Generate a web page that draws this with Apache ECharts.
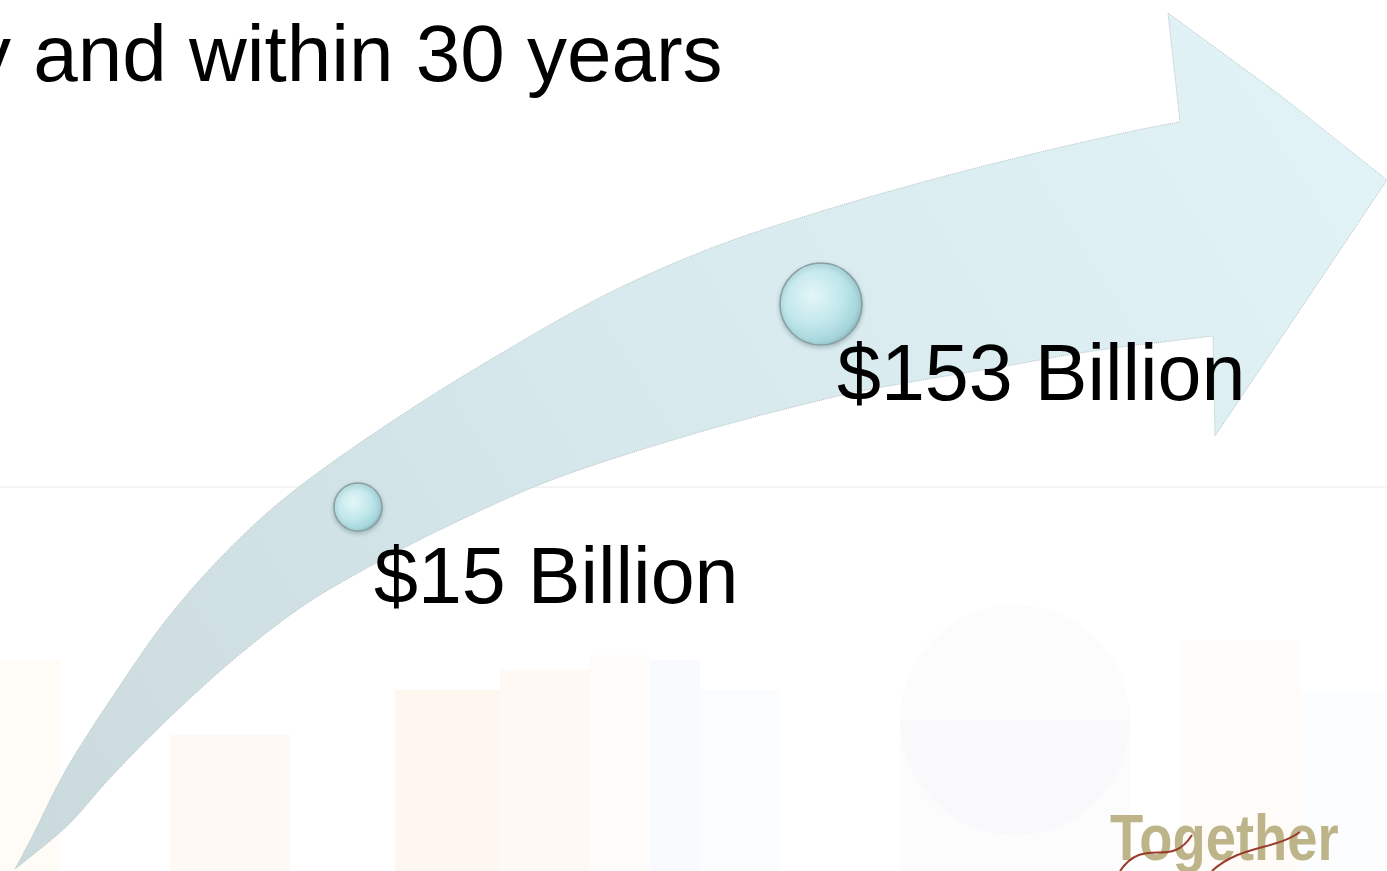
<!DOCTYPE html>
<html>
<head>
<meta charset="utf-8">
<script src="https://cdn.jsdelivr.net/npm/echarts@6/dist/echarts.min.js"></script>
<style>
html,body{margin:0;padding:0;background:#ffffff;}
#chart{width:1387px;height:871px;}
</style>
</head>
<body>
<div id="chart"></div>
<script>
// ---- data ----
var stages = ['Today', 'Within 30 years'];
var valuesBillion = [15, 153];
var headline = 'y and within 30 years';
var logoText = 'Together';

// ---- helpers (decorative arrow outline) ----
function catmullPoints(pts) {
  var out = [pts[0]];
  for (var i = 0; i < pts.length - 1; i++) {
    var p0 = pts[i - 1] || pts[i], p1 = pts[i], p2 = pts[i + 1], p3 = pts[i + 2] || p2;
    for (var k = 1; k <= 12; k++) {
      var t = k / 12, t2 = t * t, t3 = t2 * t;
      var x = 0.5 * ((2 * p1[0]) + (-p0[0] + p2[0]) * t + (2 * p0[0] - 5 * p1[0] + 4 * p2[0] - p3[0]) * t2 + (-p0[0] + 3 * p1[0] - 3 * p2[0] + p3[0]) * t3);
      var y = 0.5 * ((2 * p1[1]) + (-p0[1] + p2[1]) * t + (2 * p0[1] - 5 * p1[1] + 4 * p2[1] - p3[1]) * t2 + (-p0[1] + 3 * p1[1] - 3 * p2[1] + p3[1]) * t3);
      out.push([x, y]);
    }
  }
  return out;
}
var upperEdge = [[15,869],[33,835],[67,768],[117,690],[170,615],[233,545],[300,486],[400,416],[505,351],[609,293],[714,247],[819,212],[923,182],[1028,155],[1133,131],[1180,122]];
var lowerEdge = [[1213,336],[1100,350],[1000,367],[900,384],[834,397],[700,432],[557,478],[450,525],[367,568],[300,608],[233,660],[167,720],[110,778],[67,826],[15,869]];
var arrowPoints = catmullPoints(upperEdge)
  .concat([[1168, 13], [1280, 95], [1387, 180], [1300, 310], [1215, 436]])
  .concat(catmullPoints(lowerEdge));

var chart = echarts.init(document.getElementById('chart'), null, {renderer: 'canvas'});

var bgRects = [
  [0, 660, 60, 211, 'rgba(253,236,218,0.22)'],
  [170, 735, 120, 136, 'rgba(253,232,212,0.25)'],
  [395, 690, 105, 181, 'rgba(253,230,206,0.3)'],
  [500, 670, 90, 201, 'rgba(253,232,212,0.25)'],
  [590, 655, 60, 216, 'rgba(250,238,228,0.2)'],
  [650, 660, 50, 211, 'rgba(232,240,250,0.3)'],
  [700, 690, 80, 181, 'rgba(236,242,250,0.25)'],
  [1180, 640, 120, 231, 'rgba(253,236,225,0.2)'],
  [1300, 690, 87, 181, 'rgba(240,244,250,0.2)']
];
var graphics = [];
bgRects.forEach(function (r) {
  graphics.push({type: 'rect', z: -10, shape: {x: r[0], y: r[1], width: r[2], height: r[3]}, style: {fill: r[4]}, silent: true});
});
graphics.push({type: 'circle', z: -9, shape: {cx: 1015, cy: 720, r: 115}, style: {fill: 'rgba(238,240,244,0.18)'}, silent: true});
graphics.push({type: 'rect', z: -9, shape: {x: 900, y: 720, width: 230, height: 151}, style: {fill: 'rgba(238,240,244,0.18)'}, silent: true});
graphics.push({type: 'line', z: -8, shape: {x1: 0, y1: 487, x2: 1387, y2: 487}, style: {stroke: '#f4f4f4', lineWidth: 2}, silent: true});
graphics.push({
  type: 'polygon', z: -5, silent: true,
  shape: {points: arrowPoints},
  style: {
    fill: new echarts.graphic.LinearGradient(0, 1, 1, 0, [
      {offset: 0, color: '#cad9dc'},
      {offset: 0.45, color: '#d6e8ec'},
      {offset: 1, color: '#e2f4f7'}
    ]),
    stroke: '#b6c3c6', lineWidth: 1, lineDash: [1, 1]
  }
});
graphics.push({
  type: 'text', z: 10, x: -29, y: 19, silent: true,
  style: {text: headline, fill: '#000000', font: '80px "Liberation Sans", Arial, sans-serif'}
});
graphics.push({
  type: 'text', z: 10, x: 1110, y: 810, scaleX: 0.85, silent: true,
  style: {text: logoText, fill: '#bdb48a', font: 'bold 64px "Liberation Sans", Arial, sans-serif'}
});
graphics.push({
  type: 'bezierCurve', z: 11, silent: true,
  shape: {x1: 1120, y1: 871, cpx1: 1145, cpy1: 835, cpx2: 1170, cpy2: 870, x2: 1192, y2: 835},
  style: {fill: null, stroke: '#9a3b2b', lineWidth: 2}
});
graphics.push({
  type: 'bezierCurve', z: 11, silent: true,
  shape: {x1: 1212, y1: 871, cpx1: 1240, cpy1: 845, cpx2: 1275, cpy2: 850, x2: 1300, y2: 832},
  style: {fill: null, stroke: '#9a3b2b', lineWidth: 2}
});

var option = {
  backgroundColor: '#ffffff',
  animation: false,
  grid: {left: 358, width: 463, top: 235, height: 294, containLabel: false},
  xAxis: {type: 'category', data: stages, boundaryGap: false, show: false},
  yAxis: {type: 'value', min: 0, max: 200, show: false},
  graphic: graphics,
  series: [{
    type: 'scatter',
    z: 5,
    data: valuesBillion,
    symbol: 'circle',
    symbolSize: function (v, p) { return p.dataIndex === 0 ? 48 : 82; },
    itemStyle: {
      opacity: 1,
      color: new echarts.graphic.RadialGradient(0.4, 0.4, 0.65, [
        {offset: 0, color: '#e4f6f8'},
        {offset: 0.55, color: '#c0e7eb'},
        {offset: 0.85, color: '#a6d6dc'},
        {offset: 1, color: '#92bcc1'}
      ]),
      borderColor: '#8a9fa2', borderWidth: 1.5,
      shadowColor: 'rgba(60,90,95,0.3)', shadowBlur: 4, shadowOffsetY: 2
    },
    label: {
      show: true,
      opacity: 1,
      position: ['50%', '50%'],
      align: 'left',
      verticalAlign: 'middle',
      offset: [16, 74],
      formatter: function (p) { return '$' + p.value + ' Billion'; },
      color: '#000000',
      textBorderWidth: 0,
      fontSize: 79,
      fontFamily: '"Liberation Sans", Arial, sans-serif'
    }
  }]
};
chart.setOption(option);
</script>
</body>
</html>
